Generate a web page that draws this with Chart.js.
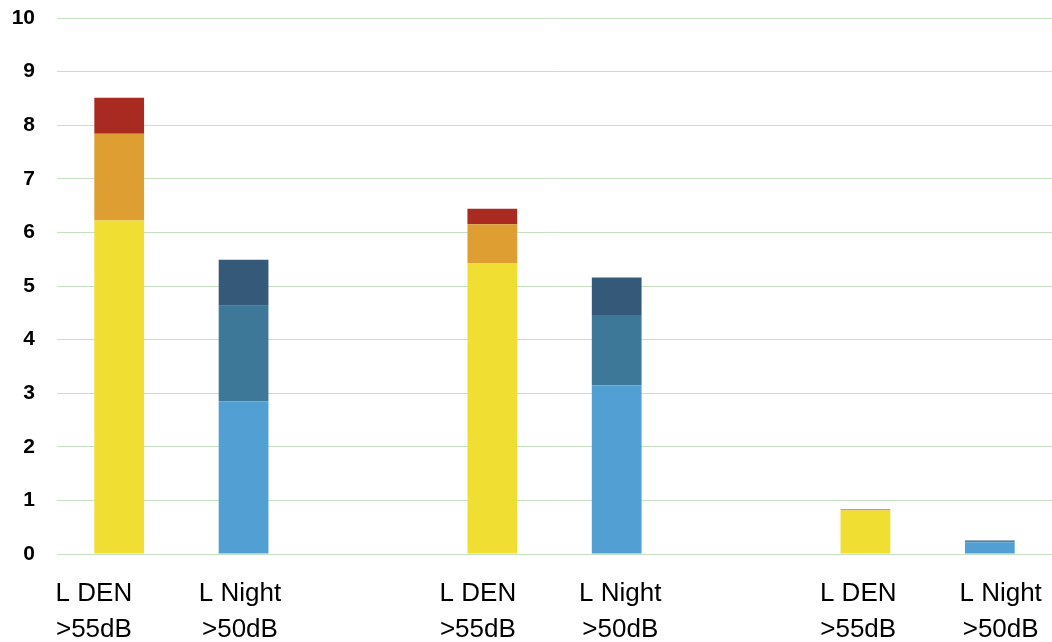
<!DOCTYPE html>
<html>
<head>
<meta charset="utf-8">
<script src="https://cdn.jsdelivr.net/npm/chart.js@4/dist/chart.umd.min.js"></script>
<style>
  html, body { margin: 0; padding: 0; background: #fff; }
  #contenedor-grafico { width: 1052px; height: 642px; position: relative; }
</style>
</head>
<body>
<div id="contenedor-grafico"><canvas id="grafico"></canvas></div>
<script>
// Categorías (las vacías separan los grupos)
const categorias = [
  ['L DEN', '>55dB'], ['L Night', '>50dB'], '',
  ['L DEN', '>55dB'], ['L Night', '>50dB'], '',
  ['L DEN', '>55dB'], ['L Night', '>50dB']
];

// Series L DEN
const denBajo  = [6.22, null, null, 5.43, null, null, 0.81, null];
const denMedio = [1.62, null, null, 0.72, null, null, 0.02, null];
const denAlto  = [0.67, null, null, 0.29, null, null, 0.01, null];

// Series L Night
const nightBajo  = [null, 2.85, null, null, 3.15, null, null, 0.22];
const nightMedio = [null, 1.78, null, null, 1.31, null, null, 0.01];
const nightAlto  = [null, 0.86, null, null, 0.70, null, null, 0.02];

const ticksY = [0, 1, 2, 3, 4, 5, 6, 7, 8, 9, 10];

// Desplazamiento horizontal de las etiquetas del eje x (en espacios, + derecha, - izquierda)
const desplazamientoEtiquetas = [-7, -1, 0, -4, 1, 0, -2, 3];

const serie = (data, color) => ({
  data: data,
  backgroundColor: color,
  borderWidth: 0,
  barPercentage: 0.4,
  categoryPercentage: 1
});

const moverEtiqueta = (texto, n) => {
  const espacios = ' '.repeat(Math.abs(n));
  return n < 0 ? texto + espacios : espacios + texto;
};

const crearGrafico = () => {
  const config = {
    type: 'bar',
    data: {
      labels: categorias,
      datasets: [
        serie(denBajo, '#F0DF32'),
        serie(denMedio, '#DF9E31'),
        serie(denAlto, '#A92A21'),
        serie(nightBajo, '#529FD3'),
        serie(nightMedio, '#3E7898'),
        serie(nightAlto, '#355A79')
      ]
    },
    options: {
      responsive: true,
      maintainAspectRatio: false,
      animation: false,
      layout: { padding: { top: 18, right: 0, left: 0, bottom: 0 } },
      plugins: {
        legend: { display: false },
        tooltip: { enabled: false }
      },
      scales: {
        x: {
          stacked: true,
          grid: { display: false },
          border: { display: false },
          ticks: {
            color: '#000',
            padding: 14,
            maxRotation: 0,
            autoSkip: false,
            font: { family: 'Liberation Sans, Arial, sans-serif', size: 26, lineHeight: 36 / 26 },
            callback: (valor, i) => {
              const etiqueta = categorias[i];
              if (!Array.isArray(etiqueta)) return etiqueta;
              return etiqueta.map(linea => moverEtiqueta(linea, desplazamientoEtiquetas[i]));
            }
          },
          afterFit: (escala) => { escala.height = 88; escala.paddingLeft = 0; escala.paddingRight = 0; }
        },
        y: {
          stacked: true,
          min: 0,
          max: 10,
          afterBuildTicks: (escala) => { escala.ticks = ticksY.map(v => ({ value: v })); },
          grid: { color: '#C6E1C2', lineWidth: 1, drawTicks: false },
          border: { display: false },
          ticks: {
            color: '#000',
            padding: 22,
            font: { family: 'Liberation Sans, Arial, sans-serif', size: 21, weight: 'bold' }
          },
          afterFit: (escala) => { escala.width = 57; escala.paddingTop = 0; escala.paddingBottom = 0; }
        }
      }
    }
  };
  new Chart(document.getElementById('grafico').getContext('2d'), config);
};

crearGrafico();
</script>
</body>
</html>
